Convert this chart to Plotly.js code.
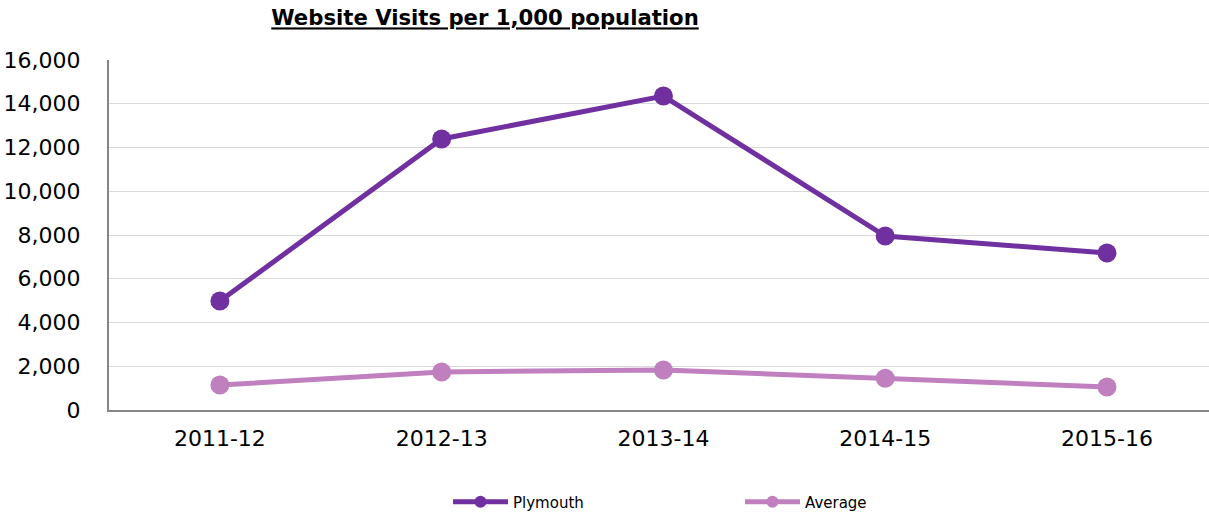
<!DOCTYPE html>
<html><head><meta charset="utf-8">
<script src="https://cdn.plot.ly/plotly-3.0.1.min.js"></script>
<style>body{margin:0;padding:0;background:#fff}#chart{width:1209px;height:516px}</style>
</head><body><div id="chart"></div>
<script>
const categories = ["2011-12", "2012-13", "2013-14", "2014-15", "2015-16"];
const plymouth = [4980, 12390, 14350, 7950, 7180];
const average = [1140, 1740, 1830, 1450, 1050];
const yTickVals = [0, 2000, 4000, 6000, 8000, 10000, 12000, 14000, 16000];
const yTickText = ["0", "2,000", "4,000", "6,000", "8,000", "10,000", "12,000", "14,000", "16,000"];

const traces = [
  {x: categories, y: plymouth, name: "Plymouth", type: "scatter", mode: "lines+markers",
   line: {color: "#7030A0", width: 5}, marker: {color: "#7030A0", size: 19}},
  {x: categories, y: average, name: "Average", type: "scatter", mode: "lines+markers",
   line: {color: "#C080BF", width: 5}, marker: {color: "#C080BF", size: 19}}
];
const layout = {
  width: 1209, height: 516,
  margin: {l: 109, r: 0, t: 60, b: 106, autoexpand: false},
  paper_bgcolor: "#fff", plot_bgcolor: "#fff",
  font: {family: "DejaVu Sans, Verdana, sans-serif", color: "#000", size: 22},
  title: {text: "<u><b>Website Visits per 1,000 population</b></u>", font: {size: 21.2, color: "#000"},
    x: 485/1209, xref: "container", xanchor: "center", y: 1 - 18/516, yref: "container", yanchor: "middle"},
  xaxis: {type: "category", range: [-0.5, 4.46], showgrid: false, zeroline: false,
    showline: true, linecolor: "#868686", linewidth: 2, ticks: "", tickfont: {size: 22},
    ticklabelstandoff: 8, automargin: false},
  yaxis: {range: [0, 16000], tickvals: yTickVals, ticktext: yTickText, showgrid: true,
    gridcolor: "#D9D9D9", gridwidth: 1, zeroline: false, showline: true, linecolor: "#868686",
    linewidth: 2, ticks: "", tickfont: {size: 22}, ticklabelstandoff: 22, automargin: false},
  legend: {orientation: "h", x: (448-109)/1100, xanchor: "left", y: 14/516, yref: "container", yanchor: "middle",
    font: {size: 15}, entrywidth: 222, entrywidthmode: "pixels", itemwidth: 55, itemsizing: "constant"},
  showlegend: true
};
Plotly.newPlot("chart", traces, layout, {displayModeBar: false, staticPlot: true});
</script></body></html>
